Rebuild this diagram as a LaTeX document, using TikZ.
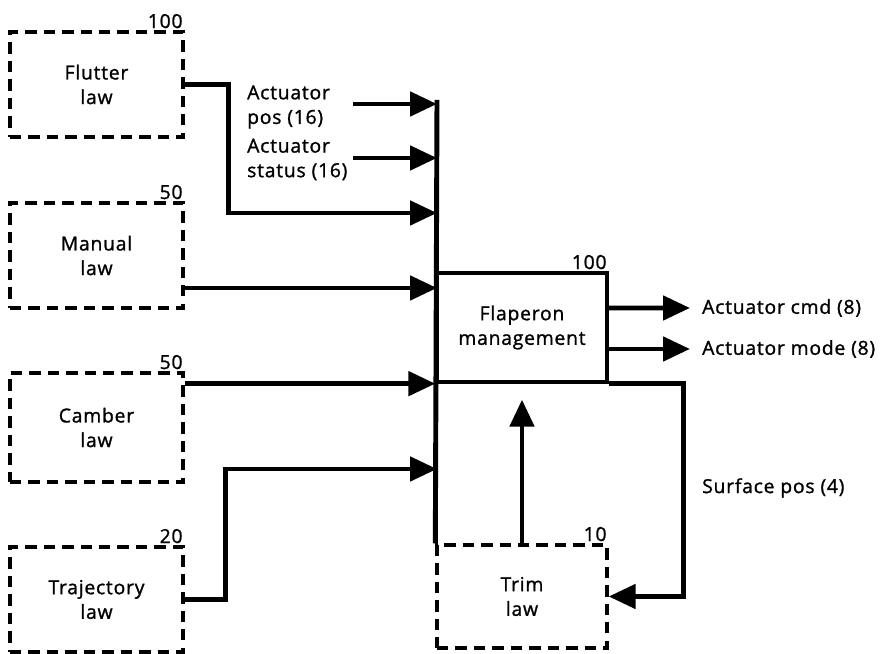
\documentclass[tikz,border=0pt]{standalone}
\usepackage{fontspec}
\setmainfont{Open Sans}[FakeBold=1.2, LetterSpace=4]
\usetikzlibrary{arrows.meta}

\begin{document}
\begin{tikzpicture}[
  every node/.style={font=\fontsize{11}{14}\selectfont},
  lawbox/.style={draw, dash pattern=on 6.5pt off 4pt, line width=1.9pt,
    minimum width=3.46cm, minimum height=2.1cm, align=center, inner sep=0pt},
  mgmtbox/.style={draw, line width=1.9pt, minimum width=3.4cm,
    minimum height=2.18cm, align=center, inner sep=0pt},
  trimbox/.style={lawbox, minimum width=3.4cm, minimum height=2.06cm},
  num/.style={anchor=south east, inner sep=1pt},
  sig/.style={line width=2.8pt, -{Triangle[length=0.54cm, width=0.48cm]}},
  txt/.style={anchor=west, align=left}
]
\useasboundingbox (0,0) rectangle (17.74,13.08);

% Law boxes
\node[lawbox, label={[num]north east:100}] (flutter) at (1.93,11.39) {Flutter\\law};
\node[lawbox, label={[num]north east:50}] (manual) at (1.93,7.97) {Manual\\law};
\node[lawbox, minimum height=2.18cm, label={[num]north east:50}] (camber) at (1.93,4.53) {Camber\\law};
\node[lawbox, label={[num]north east:20}] (traj) at (1.93,1.09) {Trajectory\\law};

% Management and trim
\node[mgmtbox, label={[num]north east:100}] (flap) at (10.44,6.53) {Flaperon\\management};
\node[trimbox, label={[num]north east:10}] (trim) at (10.44,1.15) {Trim\\law};

% Signal labels
\node[txt] (lpos) at (4.82,10.94) {Actuator\\pos (16)};
\node[txt] (lstat) at (4.82,9.89) {Actuator\\status (16)};
\node[txt] (lcmd) at (13.92,6.92) {Actuator cmd (8)};
\node[txt] (lmode) at (13.92,6.10) {Actuator mode (8)};
\node[txt] (lsurf) at (13.92,3.32) {Surface pos (4)};

% Bus taps
\coordinate (bustop) at (8.74,11.08);
\coordinate (tpos) at (8.74,11.0);
\coordinate (tstat) at (8.74,9.92);
\coordinate (tflut) at (8.74,8.82);
\coordinate (tman) at (8.74,7.32);
\coordinate (ttraj) at (8.74,3.70);

% Bus
\draw[line width=2.8pt] (bustop) -- (trim.north west);

% Inputs
\draw[sig] ([xshift=-1.68cm]tpos) -- (tpos);
\draw[sig] ([xshift=-1.68cm]tstat) -- (tstat);
\draw[sig] (flutter.east) -- ++(0.88,0) |- (tflut);
\draw[sig] (manual.east |- tman) -- (tman);
\draw[sig] (camber.east |- flap.south west) -- (flap.south west);
\draw[sig] (traj.east) -- ++(0.82,0) |- (ttraj);

% Outputs
\draw[sig] ([yshift=0.39cm]flap.east) -- ([xshift=-0.12cm]lcmd.west);
\draw[sig] ([yshift=-0.43cm]flap.east) -- ([xshift=-0.12cm]lmode.west);
\draw[sig] (flap.south east) -- ++(1.5,0) |- (trim.east);
\draw[sig, shorten >=0.32cm] (trim.north) -- (flap.south);
\end{tikzpicture}
\end{document}
